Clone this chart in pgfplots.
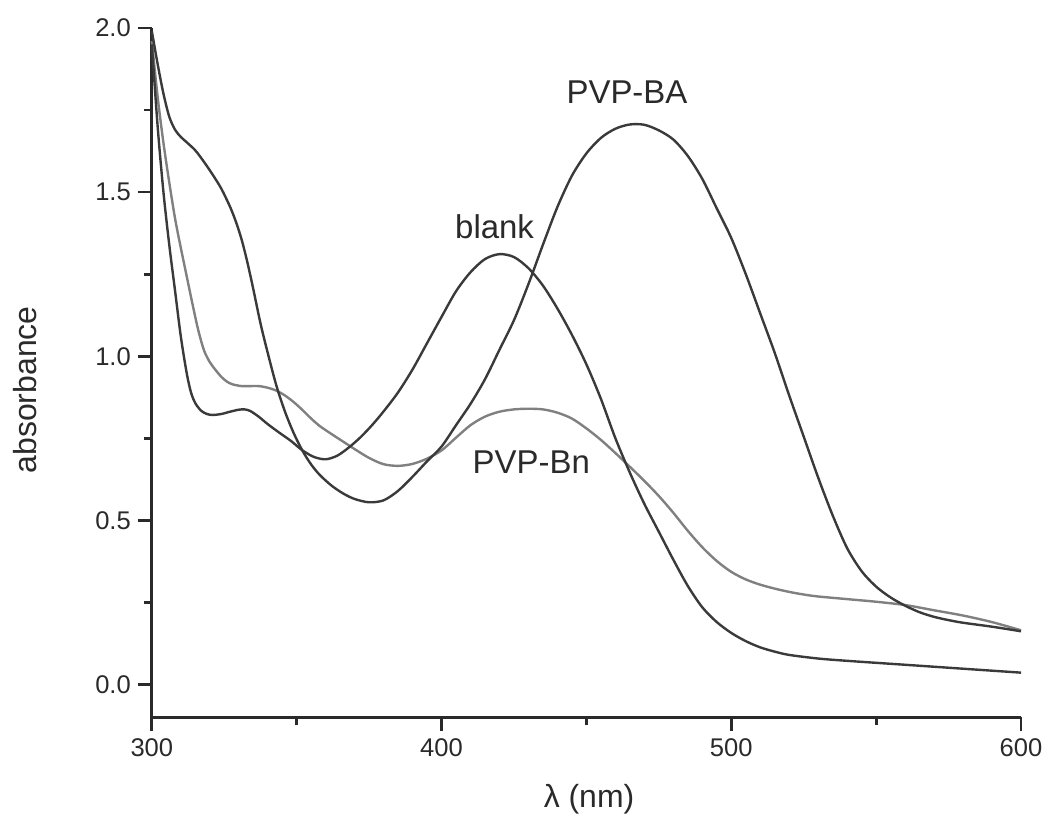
\documentclass[border=0pt]{standalone}
\usepackage{pgfplots}
\pgfplotsset{compat=1.18}
\usepackage{fontspec}
\setmainfont{Liberation Sans}
\definecolor{dk}{HTML}{3A3A3A}
\definecolor{lt}{HTML}{808080}
\definecolor{tx}{HTML}{2A2A2A}

\begin{document}
\begin{tikzpicture}
\begin{axis}[
  name=ax,
  at={(0,0)}, anchor=south west,
  scale only axis, width=435pt, height=345pt,
  xmin=300, xmax=600, ymin=-0.1, ymax=2.0,
  axis x line*=bottom, axis y line*=left,
  axis line style={tx, line width=1.4pt, -},
  xtick={300,400,500,600}, ytick={0,0.5,1,1.5,2},
  minor xtick={350,450,550}, minor ytick={0.25,0.75,1.25,1.75},
  tick align=outside,
  major tick length=7pt, minor tick length=4pt,
  every tick/.style={tx, line width=1.4pt},
  tick label style={font=\fontsize{12.8}{14}\selectfont, text=tx},
  /pgf/number format/assume math mode=true,
  yticklabel style={/pgf/number format/fixed, /pgf/number format/fixed zerofill, /pgf/number format/precision=1},
  xticklabel style={/pgf/number format/1000 sep={}},
  clip=false,
]
% PVP-Bn
\addplot[lt, line width=1.2pt, smooth, tension=0.5] coordinates {
(300,1.96) (302,1.79) (304,1.65) (306,1.53) (308,1.42) (310,1.33)
(312,1.245) (314,1.16) (316,1.08) (318,1.018) (320,0.982) (322,0.958) (324,0.937)
(326,0.922) (328,0.914) (331,0.909) (334,0.909) (337,0.909) (340,0.904) (343,0.895)
(346,0.88) (349,0.86) (352,0.836) (355,0.81) (358,0.787) (362,0.763) (366,0.74)
(370,0.717) (375,0.69) (380,0.671) (385,0.666) (390,0.672) (395,0.688) (400,0.713)
(405,0.752) (410,0.79) (415,0.816) (420,0.831) (425,0.838) (430,0.84) (435,0.838)
(440,0.828) (445,0.81) (450,0.78) (455,0.745) (460,0.705) (465,0.663) (470,0.62)
(475,0.574) (480,0.523) (485,0.468) (490,0.418) (495,0.376) (500,0.343) (505,0.32)
(510,0.304) (515,0.292) (520,0.282) (525,0.274) (530,0.268) (540,0.26) (550,0.252)
(560,0.242) (570,0.226) (580,0.21) (590,0.19) (600,0.165)
};
% blank
\addplot[dk, line width=1.2pt, smooth, tension=0.5] coordinates {
(300,1.95) (302,1.70) (304,1.50) (306,1.34) (308,1.20) (310,1.06) (312,0.95)
(313.5,0.89) (315,0.857)
(317,0.834) (319,0.824) (321,0.821) (324,0.824) (327,0.831) (330,0.837)
(332,0.838) (334,0.833) (337,0.815) (340,0.793) (344,0.767) (348,0.742)
(352,0.713) (356,0.693) (360,0.686) (364,0.697) (368,0.722) (372,0.753)
(376,0.79) (380,0.832) (385,0.89) (390,0.96) (395,1.04) (400,1.12) (405,1.198)
(410,1.256) (415,1.296) (420,1.311) (425,1.302) (430,1.268) (435,1.215)
(440,1.145) (445,1.065) (450,0.975) (455,0.87) (460,0.75) (465,0.645)
(470,0.55) (475,0.465) (480,0.38) (485,0.30) (490,0.235) (495,0.19) (500,0.157)
(505,0.132) (510,0.113) (515,0.1) (520,0.09) (530,0.079) (540,0.072)
(560,0.06) (580,0.048) (600,0.036)
};
% PVP-BA
\addplot[dk, line width=1.2pt, smooth, tension=0.5] coordinates {
(300,1.99) (302,1.89) (304,1.80) (306,1.73) (308,1.69) (310,1.668) (312,1.652)
(315,1.627) (318,1.592) (321,1.553) (324,1.51) (327,1.455) (329,1.41) (331,1.355)
(333,1.285) (335,1.205) (337.5,1.10) (340,1.01) (343,0.91) (346,0.83) (349,0.765)
(352,0.712) (355,0.67) (358,0.638) (362,0.606) (366,0.582) (370,0.565) (375,0.555)
(380,0.561) (385,0.59) (390,0.633) (395,0.68) (400,0.725) (405,0.79) (410,0.855)
(415,0.93) (420,1.02) (425,1.11) (430,1.22) (435,1.34) (440,1.455) (445,1.55)
(450,1.618) (455,1.665) (460,1.693) (465,1.706) (470,1.705) (475,1.688)
(480,1.66) (485,1.61) (490,1.54) (495,1.45) (500,1.36) (505,1.25) (510,1.13)
(515,1.01) (520,0.88) (525,0.755) (530,0.63) (535,0.515) (540,0.415) (545,0.345)
(550,0.298) (555,0.265) (560,0.24) (565,0.22) (570,0.206) (575,0.196) (580,0.188)
(590,0.176) (600,0.162)
};
\node[font=\fontsize{16.5}{18}\selectfont, text=tx] at (axis cs:464,1.805) {PVP-BA};
\node[font=\fontsize{16.5}{18}\selectfont, text=tx] at (axis cs:418.3,1.393) {blank};
\node[font=\fontsize{16.5}{18}\selectfont, text=tx] at (axis cs:431,0.677) {PVP-Bn};
\node[font=\fontsize{16}{18}\selectfont, text=tx, rotate=90] at (axis description cs:-0.146,0.475) {absorbance};
\node[font=\fontsize{16}{18}\selectfont, text=tx] at (axis description cs:0.503,-0.119) {λ (nm)};
\end{axis}
\path ([shift={(-76pt,-55pt)}]ax.south west) rectangle ([shift={(13.5pt,14pt)}]ax.north east);
\end{tikzpicture}
\end{document}
